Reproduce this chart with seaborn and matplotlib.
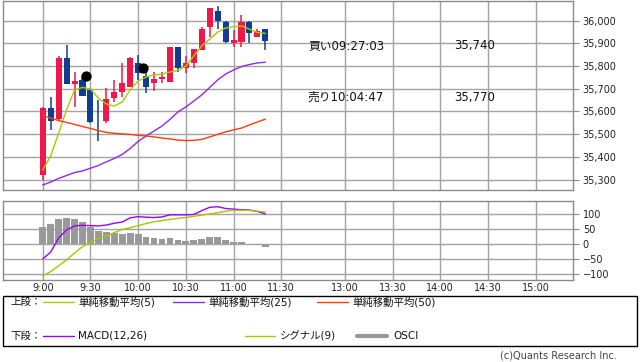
import numpy as np
import pandas as pd
import matplotlib
matplotlib.use("Agg")
import matplotlib.pyplot as plt
from matplotlib.lines import Line2D
from matplotlib.patches import Rectangle
import seaborn as sns

# ---------------- data ----------------
bar_index = list(range(29))  # 5-minute bars from 9:00
open_ = [35320, 35615, 35565, 35835, 35722, 35740, 35695, 35558, 35558, 35660,
         35684, 35710, 35815, 35756, 35724, 35742, 35731, 35885, 35790, 35812,
         35871, 35971, 36043, 35994, 35900, 35905, 35994, 35930, 35963]
high = [35620, 35665, 35845, 35895, 35775, 35750, 35705, 35650, 35702, 35740,
        35812, 35840, 35849, 35797, 35775, 35775, 35885, 35885, 35845, 35876,
        35974, 36057, 36066, 36000, 35959, 36025, 36000, 35962, 35965]
low = [35300, 35520, 35560, 35720, 35620, 35670, 35548, 35470, 35550, 35643,
       35665, 35708, 35739, 35683, 35692, 35724, 35731, 35775, 35771, 35790,
       35870, 35930, 35962, 35900, 35883, 35885, 35903, 35928, 35871]
close = [35615, 35560, 35835, 35720, 35736, 35670, 35552, 35556, 35655, 35686,
         35724, 35837, 35771, 35709, 35743, 35753, 35885, 35790, 35815, 35875,
         35963, 36057, 36000, 35907, 35915, 35994, 35944, 35955, 35912]

ma5 = [35342, 35404, 35505, 35607, 35695, 35706, 35699, 35659, 35633, 35624,
       35642, 35695, 35734, 35752, 35761, 35765, 35774, 35781, 35800, 35845,
       35889, 35919, 35950, 35968, 35974, 35977, 35963, 35948, 35944]
ma25 = [35276, 35289, 35305, 35318, 35331, 35338, 35350, 35362, 35378, 35393,
        35411, 35437, 35468, 35492, 35514, 35536, 35565, 35598, 35620, 35646,
        35673, 35706, 35739, 35765, 35783, 35798, 35807, 35814, 35817]
ma50 = [35582, 35571, 35560, 35552, 35543, 35534, 35525, 35516, 35508, 35504,
        35501, 35499, 35495, 35492, 35488, 35483, 35479, 35474, 35472, 35473,
        35477, 35488, 35499, 35510, 35519, 35527, 35541, 35554, 35566]

macd = [-49, -26, 21, 48, 61, 63, 62, 61, 64, 70,
        74, 88, 92, 90, 89, 91, 98, 98, 98, 99,
        112, 123, 125, 119, 117, 115, 114, 109, 101]
signal = [-105, -91, -72, -52, -29, -8, 7, 19, 28, 39,
          49, 55, 62, 69, 75, 79, 83, 86, 89, 93,
          97, 101, 105, 110, 113, 113, 113, 110, 108]
osci = [59, 68, 84, 88, 84, 75, 59, 44, 42, 37,
        34, 39, 34, 24, 22, 19, 22, 15, 12, 15,
        19, 24, 24, 15, 9, 9, 0, -2, -8]

trade_pos = [5.5, 12.6]
trade_marker_price = [35755, 35790]
trade_labels = ["買い09:27:03", "売り10:04:47"]
trade_prices = ["35,740", "35,770"]

tick_pos = [0, 6, 12, 18, 24, 30, 38, 44, 50, 56, 62]
tick_labels = ["9:00", "9:30", "10:00", "10:30", "11:00", "11:30",
               "13:00", "13:30", "14:00", "14:30", "15:00"]
price_ticks = [35300, 35400, 35500, 35600, 35700, 35800, 35900, 36000]
osc_ticks = [-100, -50, 0, 50, 100]

# ---------------- style ----------------
sns.set_style("white")
plt.rcParams["font.family"] = ["DejaVu Sans", "Noto Sans CJK JP"]
plt.rcParams["axes.unicode_minus"] = True

RED = "#f2174a"
BLUE = "#123c94"
C_MA5 = "#a6cc00"
C_MA25 = "#9028f0"
C_MA50 = "#ff3a0a"
C_MACD = "#9a00ff"
C_SIG = "#a6c800"
C_OSC = "#999999"
GRID = "#a3a3a3"
FRAME = "#8a8a8a"

W, H = 642, 362
fig = plt.figure(figsize=(W / 100, H / 100), dpi=100)
fig.patch.set_facecolor("white")


def px_box(x0, y0, x1, y1):
    return [x0 / W, 1 - y1 / H, (x1 - x0) / W, (y1 - y0) / H]


ax1 = fig.add_axes(px_box(3, 1, 573, 190))
ax2 = fig.add_axes(px_box(3, 201, 573, 280))

df = pd.DataFrame({"i": bar_index, "open": open_, "high": high, "low": low,
                   "close": close, "ma5": ma5, "ma25": ma25, "ma50": ma50,
                   "macd": macd, "signal": signal, "osci": osci})
up = df["close"] >= df["open"]
cols = np.where(up, RED, BLUE)
body_bottom = np.minimum(df["open"], df["close"])
body_h = np.maximum(np.abs(df["close"] - df["open"]), 4)

# ---------------- top panel ----------------
ax1.vlines(df["i"], df["low"], df["high"], colors=cols, lw=1.1, zorder=3)
ax1.bar(df["i"], body_h, bottom=body_bottom, width=0.76, color=cols,
        linewidth=0, zorder=3)
sns.lineplot(data=df, x="i", y="ma5", ax=ax1, color=C_MA5, lw=1.0, zorder=4)
sns.lineplot(data=df, x="i", y="ma25", ax=ax1, color=C_MA25, lw=1.0, zorder=4)
sns.lineplot(data=df, x="i", y="ma50", ax=ax1, color=C_MA50, lw=1.0, zorder=4)
sns.scatterplot(x=trade_pos, y=trade_marker_price, ax=ax1, color="black",
                s=55, edgecolor="black", linewidth=0, zorder=6)

ax1.set_xlim(-5, 66.7)
ax1.set_ylim(35254, 36087)
ax1.set_yticks(price_ticks)
ax1.set_yticklabels([f"{v:,}" for v in price_ticks])
ax1.set_xticks(tick_pos)
ax1.set_xticklabels([])
ax1.yaxis.tick_right()
ax1.tick_params(axis="y", direction="out", length=4, width=0.8, color=FRAME,
                labelsize=7, pad=3, labelcolor="#222222")
ax1.tick_params(axis="x", length=0)
ax1.grid(True, color=GRID, lw=1.0)
ax1.set_axisbelow(True)
ax1.set_xlabel("")
ax1.set_ylabel("")

# ---------------- bottom panel ----------------
sns.barplot(x=bar_index, y=osci, native_scale=True, ax=ax2, color=C_OSC,
            width=0.85, saturation=1, errorbar=None, edgecolor="none", zorder=3)
sns.lineplot(data=df, x="i", y="macd", ax=ax2, color=C_MACD, lw=1.0, zorder=4)
sns.lineplot(data=df, x="i", y="signal", ax=ax2, color=C_SIG, lw=1.0, zorder=4)

ax2.set_xlim(-5, 66.7)
ax2.set_ylim(-119, 144)
ax2.set_yticks(osc_ticks)
ax2.set_yticklabels([str(v).replace("-", "\u2212") for v in osc_ticks])
ax2.set_xticks(tick_pos)
ax2.set_xticklabels(tick_labels)
ax2.yaxis.tick_right()
ax2.tick_params(axis="y", direction="out", length=4, width=0.8, color=FRAME,
                labelsize=7, pad=3, labelcolor="#222222")
ax2.tick_params(axis="x", length=0, labelsize=7, pad=2, labelcolor="#222222")
ax2.grid(True, color=GRID, lw=1.0)
ax2.set_axisbelow(True)
ax2.set_xlabel("")
ax2.set_ylabel("")

for ax in (ax1, ax2):
    for sp in ax.spines.values():
        sp.set_color(FRAME)
        sp.set_linewidth(1.0)
        sp.set_visible(True)

# ---------------- trade annotations ----------------
for lab, pr, yy in zip(trade_labels, trade_prices, [46, 97.5]):
    fig.text(308 / W, 1 - yy / H, lab, fontsize=8.5, va="center", ha="left",
             color="#111111")
    fig.text(454 / W, 1 - yy / H, pr, fontsize=8.5, va="center", ha="left",
             color="#111111")

# ---------------- legend box ----------------
fig.patches.append(Rectangle((3 / W, 1 - 346 / H), 634 / W, 50 / H,
                             transform=fig.transFigure, fill=False,
                             edgecolor="black", lw=1.0))


def leg_line(x0, x1, y, color, lw=1.0):
    fig.lines.append(Line2D([x0 / W, x1 / W], [1 - y / H, 1 - y / H],
                            transform=fig.transFigure, color=color, lw=lw))


def leg_text(x, y, s):
    fig.text(x / W, 1 - y / H, s, fontsize=7.5, va="center", ha="left",
             color="#111111")


r1, r2 = 302, 336
leg_text(10, r1, "上段：")
leg_line(43, 74, r1, C_MA5)
leg_text(78, r1, "単純移動平均(5)")
leg_line(173, 204, r1, C_MA25)
leg_text(208, r1, "単純移動平均(25)")
leg_line(317, 348, r1, C_MA50)
leg_text(352, r1, "単純移動平均(50)")

leg_text(10, r2, "下段：")
leg_line(43, 74, r2, C_MACD)
leg_text(78, r2, "MACD(12,26)")
leg_line(245, 275, r2, C_SIG)
leg_text(280, r2, "シグナル(9)")
leg_line(357, 387, r2, C_OSC, lw=3.0)
leg_text(393, r2, "OSCI")

fig.text(617 / W, 1 - 356 / H, "(c)Quants Research Inc.", fontsize=7,
         va="center", ha="right", color="#444444")

fig.savefig("out.png", dpi=100, facecolor="white")
